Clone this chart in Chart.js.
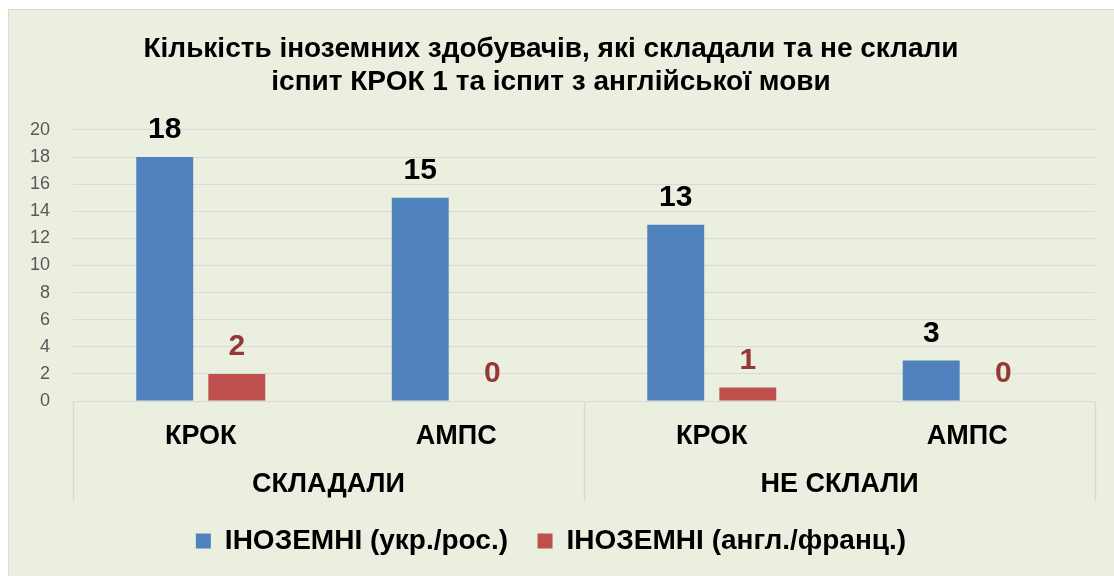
<!DOCTYPE html>
<html lang="uk">
<head>
<meta charset="utf-8">
<title>Кількість іноземних здобувачів</title>
<script src="https://cdn.jsdelivr.net/npm/chart.js@4"></script>
<style>
    html, body { margin: 0; padding: 0; background: #fff; overflow: hidden; }
    #frame {
        position: absolute; left: 8px; top: 9px; width: 1130px; height: 600px;
        background: #ebefdf; border: 1px solid #d9d9d9;
    }
    #wrap { position: absolute; left: 0; top: 0; width: 1114px; height: 565px; }
</style>
</head>
<body>
<div id="frame"></div>
<div id="wrap"><canvas id="chart"></canvas></div>
<script>
const titleLines = ['Кількість іноземних здобувачів, які складали та не склали', 'іспит КРОК 1 та іспит з англійської мови'];
const categories = ['КРОК', 'АМПС', 'КРОК', 'АМПС'];
const groups = ['СКЛАДАЛИ', 'НЕ СКЛАЛИ'];
const seriesNames = ['ІНОЗЕМНІ (укр./рос.)', 'ІНОЗЕМНІ (англ./франц.)'];
const ukrRusValues = [18, 15, 13, 3];
const engFrValues = [2, 0, 1, 0];
const yTicks = [0, 2, 4, 6, 8, 10, 12, 14, 16, 18, 20];

const FONT = '"Liberation Sans", Arial, sans-serif';
const GRID = '#d9d9d9';

// values above the bars
const valueLabels = {
    id: 'valueLabels',
    afterDatasetsDraw(chart) {
        const ctx = chart.ctx;
        ctx.save();
        ctx.font = 'bold 30px ' + FONT;
        ctx.textAlign = 'center';
        ctx.textBaseline = 'middle';
        chart.data.datasets.forEach((ds, i) => {
            const meta = chart.getDatasetMeta(i);
            ctx.fillStyle = ds.labelColor;
            meta.data.forEach((bar, j) => {
                ctx.fillText(String(ds.data[j]), bar.x, bar.y - 27);
            });
        });
        ctx.restore();
    }
};

// vertical lines splitting the two category groups below the axis
const groupSeparators = {
    id: 'groupSeparators',
    afterDraw(chart) {
        const x = chart.scales.x;
        const x2 = chart.scales.x2;
        const mid = (x.getPixelForValue(1) + x.getPixelForValue(2)) / 2;
        const ctx = chart.ctx;
        ctx.save();
        ctx.strokeStyle = GRID;
        ctx.lineWidth = 1.5;
        [x.left, mid, x.right].forEach(px => {
            ctx.beginPath();
            ctx.moveTo(Math.round(px) + 0.5, x.top);
            ctx.lineTo(Math.round(px) + 0.5, x2.bottom + 4);
            ctx.stroke();
        });
        ctx.restore();
    }
};

const ctx = document.getElementById('chart').getContext('2d');
new Chart(ctx, {
    type: 'bar',
    data: {
        labels: categories,
        datasets: [{
            label: seriesNames[0],
            data: ukrRusValues,
            backgroundColor: '#4f81bd',
            labelColor: '#000000',
            barPercentage: 0.79,
            categoryPercentage: 0.564
        }, {
            label: seriesNames[1],
            data: engFrValues,
            backgroundColor: '#c0504d',
            labelColor: '#953735',
            barPercentage: 0.79,
            categoryPercentage: 0.564
        }]
    },
    options: {
        responsive: true,
        maintainAspectRatio: false,
        animation: false,
        layout: { padding: { left: 7, right: 19, top: 0, bottom: 0 } },
        scales: {
            y: {
                min: 0,
                max: 20,
                afterBuildTicks: (axis) => { axis.ticks = yTicks.map(v => ({ value: v })); },
                ticks: { color: '#595959', font: { family: FONT, size: 18 }, padding: 23 },
                grid: { color: GRID, drawTicks: false },
                border: { display: false }
            },
            x: {
                weight: 0,
                offset: true,
                grid: { display: false, drawTicks: false },
                border: { display: true, color: GRID },
                ticks: { color: '#000', font: { family: FONT, size: 27, weight: 'bold', lineHeight: 1.2 }, padding: 18.8, maxRotation: 0 }
            },
            x2: {
                type: 'category',
                position: 'bottom',
                weight: 1,
                labels: groups,
                offset: true,
                grid: { display: false, drawTicks: false },
                border: { display: false },
                ticks: { color: '#000', font: { family: FONT, size: 27, weight: 'bold', lineHeight: 1.2 }, padding: -3, maxRotation: 0 }
            }
        },
        plugins: {
            title: {
                display: true,
                text: titleLines,
                color: '#000',
                font: { family: FONT, size: 28, weight: 'bold', lineHeight: 1.17 },
                padding: { top: 33, bottom: 31.4 }
            },
            legend: {
                position: 'bottom',
                labels: {
                    boxWidth: 15,
                    boxHeight: 15,
                    padding: 29.5,
                    color: '#000',
                    font: { family: FONT, size: 28, weight: 'bold' }
                }
            },
            tooltip: { enabled: false }
        }
    },
    plugins: [valueLabels, groupSeparators]
});
</script>
</body>
</html>
